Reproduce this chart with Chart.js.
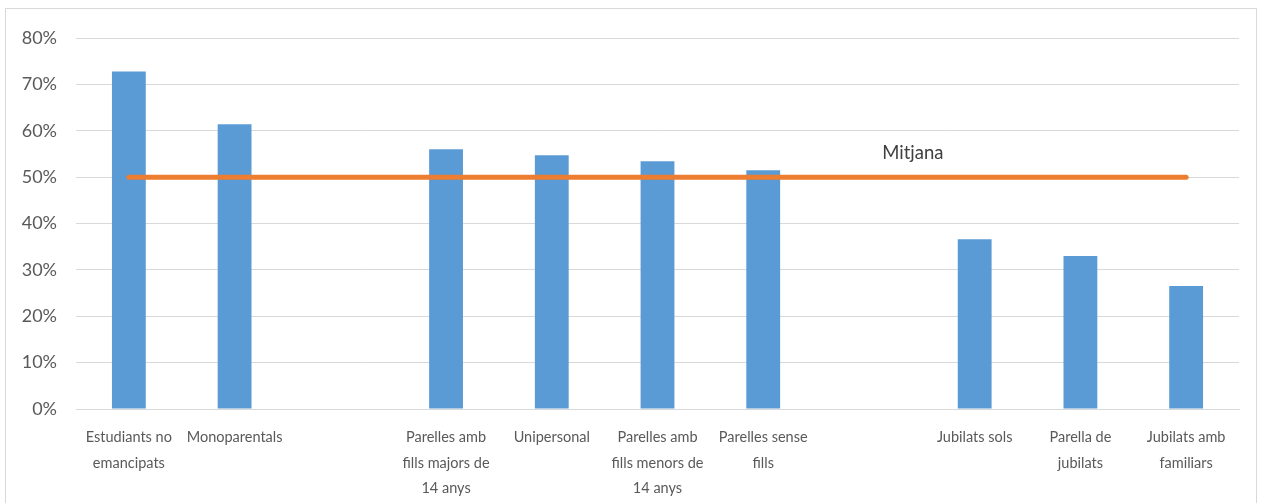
<!DOCTYPE html>
<html>
<head>
<meta charset="utf-8">
<script src="https://cdn.jsdelivr.net/npm/chart.js@4"></script>
<style>
  html, body { margin: 0; padding: 0; background: #fff; }
  #wrap { position: relative; width: 1261px; height: 503px; }
  #frame {
    position: absolute; left: 5px; top: 8px; width: 1252px; height: 500px;
    border: 1px solid #D9D9D9; box-sizing: border-box;
  }
  canvas { position: absolute; left: 0; top: 0; }
</style>
</head>
<body>
<div id="wrap">
  <div id="frame"></div>
  <canvas id="chart" width="1261" height="503"></canvas>
</div>
<script>
// Categories (empty slots are gaps between groups)
const categories = [
  ["Estudiants no", "emancipats"],
  "Monoparentals",
  "",
  ["Parelles amb", "fills majors de", "14 anys"],
  "Unipersonal",
  ["Parelles amb", "fills menors de", "14 anys"],
  ["Parelles sense", "fills"],
  "",
  "Jubilats sols",
  ["Parella de", "jubilats"],
  ["Jubilats amb", "familiars"]
];

// Share per household type (%)
const shareValues = [72.8, 61.4, null, 56.0, 54.7, 53.4, 51.5, null, 36.6, 33.0, 26.5];

// Average line (%)
const meanValues = [50, 50, 50, 50, 50, 50, 50, 50, 50, 50, 50];
const meanLabel = "Mitjana";

const yTicks = [0, 10, 20, 30, 40, 50, 60, 70, 80];

const fontFamily = "Lato, 'Open Sans', sans-serif";

// Label for the average line
const meanLabelPlugin = {
  id: "meanLabel",
  afterDatasetsDraw(chart) {
    const { ctx, scales } = chart;
    const x = (scales.x.getPixelForValue(7) + scales.x.getPixelForValue(8)) / 2 - 9;
    const y = scales.y.getPixelForValue(55.2);
    ctx.save();
    ctx.font = "18.5px " + fontFamily;
    ctx.fillStyle = "#404040";
    ctx.textAlign = "center";
    ctx.textBaseline = "middle";
    ctx.fillText(meanLabel, x, y);
    ctx.restore();
  }
};

const ctx = document.getElementById("chart").getContext("2d");

new Chart(ctx, {
  type: "bar",
  data: {
    labels: categories,
    datasets: [
      {
        type: "line",
        label: meanLabel,
        data: meanValues,
        borderColor: "#ED7D31",
        borderWidth: 5,
        borderCapStyle: "round",
        pointRadius: 0,
        fill: false,
        order: 0
      },
      {
        type: "bar",
        label: "Share",
        data: shareValues,
        backgroundColor: "#5B9BD5",
        barPercentage: 0.32,
        categoryPercentage: 1,
        order: 1
      }
    ]
  },
  options: {
    responsive: false,
    animation: false,
    layout: { padding: { top: 38, right: 22, bottom: 0, left: 0 } },
    plugins: {
      legend: { display: false },
      tooltip: { enabled: false }
    },
    scales: {
      x: {
        grid: { display: false },
        border: { color: "#D9D9D9", width: 1 },
        ticks: {
          autoSkip: false,
          maxRotation: 0,
          minRotation: 0,
          padding: 8,
          color: "#595959",
          font: { family: fontFamily, size: 14.5, lineHeight: 1.74 }
        },
        afterFit(scale) { scale.height = 94; }
      },
      y: {
        min: 0,
        max: 80,
        afterBuildTicks(scale) { scale.ticks = yTicks.map(v => ({ value: v })); },
        grid: { color: "#D9D9D9", lineWidth: 1, drawTicks: false },
        border: { display: false },
        ticks: {
          padding: 19,
          color: "#595959",
          font: { family: fontFamily, size: 18 },
          callback: v => v + "%"
        },
        afterFit(scale) { scale.width = 76; }
      }
    }
  },
  plugins: [meanLabelPlugin]
});
</script>
</body>
</html>
